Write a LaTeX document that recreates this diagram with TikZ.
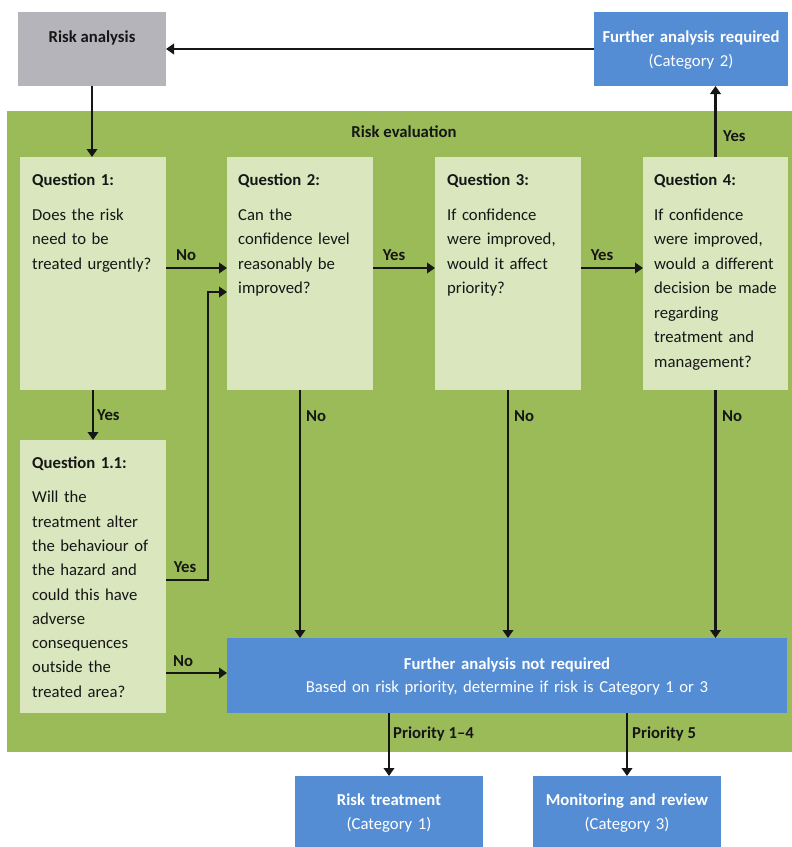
\documentclass[tikz,border=0pt]{standalone}
\usepackage{fontspec}
\setmainfont{Carlito}
\usetikzlibrary{arrows.meta}

\definecolor{evalgreen}{RGB}{155,187,89}
\definecolor{qgreen}{RGB}{217,230,190}
\definecolor{boxblue}{RGB}{84,141,212}
\definecolor{boxgray}{RGB}{180,180,186}
\definecolor{ink}{RGB}{22,22,22}

\begin{document}
\begin{tikzpicture}[x=1pt,y=-1pt,
  every node/.style={font=\fontsize{16.7}{24.5}\selectfont},
  panel/.style={rectangle, draw=none, inner sep=0, outer sep=0, anchor=north west},
  qbox/.style={panel, fill=qgreen, minimum width=146pt},
  bluebox/.style={panel, fill=boxblue},
  qtext/.style={anchor=base west, inner sep=0, text width=150pt, align=left, text=ink},
  btext/.style={anchor=base, inner sep=0, text width=420pt, align=center, text=white},
  lbl/.style={inner sep=0, text=ink, font=\fontsize{16.7}{20}\selectfont\bfseries},
  arr/.style={draw=ink, line width=2.4pt, -{Triangle[length=8pt,width=10.5pt]}},
]
\useasboundingbox (0,0) rectangle (792,847);

% evaluation area
\fill[evalgreen] (7,111) rectangle (792,752);
\node[lbl, anchor=base] (evaltitle) at (404,137) {Risk evaluation};

% outer boxes
\node[panel, fill=boxgray, minimum width=148pt, minimum height=74pt] (ra) at (18,12) {};
\node[lbl, anchor=base] (ratext) at (92,42) {Risk analysis};

\node[bluebox, minimum width=194pt, minimum height=74pt] (far) at (594,12) {};
\node[btext, text width=190pt] (fartext) at (691,42) {\bfseries Further analysis required\\\mdseries(Category 2)};

% question boxes
\node[qbox, minimum height=233pt] (q1) at (20,157) {};
\node[qbox, minimum height=233pt] (q2) at (227,157) {};
\node[qbox, minimum height=233pt] (q3) at (435,157) {};
\node[qbox, minimum width=145pt, minimum height=233pt] (q4) at (643,157) {};
\node[qbox, minimum height=273pt] (q11) at (20,440) {};

\node[qtext] (q1text) at (32,185) {\textbf{Question 1:}\\[10.5pt]Does the risk\\need to be\\treated urgently?};
\node[qtext] (q2text) at (238,185) {\textbf{Question 2:}\\[10.5pt]Can the\\confidence level\\reasonably be\\improved?};
\node[qtext] (q3text) at (447,185) {\textbf{Question 3:}\\[10.5pt]If confidence\\were improved,\\would it affect\\priority?};
\node[qtext] (q4text) at (654,185) {\textbf{Question 4:}\\[10.5pt]If confidence\\were improved,\\would a different\\decision be made\\regarding\\treatment and\\management?};
\node[qtext, font=\fontsize{16.7}{24.3}\selectfont] (q11text) at (32,468) {\textbf{Question 1.1:}\\[10.5pt]Will the\\treatment alter\\the behaviour of\\the hazard and\\could this have\\adverse\\consequences\\outside the\\treated area?};

% outcome boxes
\node[bluebox, minimum width=560pt, minimum height=75pt] (fnr) at (227,638) {};
\node[btext, font=\fontsize{16.7}{23.7}\selectfont] (fnrtext) at (507,669) {\bfseries Further analysis not required\\\mdseries Based on risk priority, determine if risk is Category 1 or 3};

\node[bluebox, minimum width=188pt, minimum height=71pt] (rt) at (295,776) {};
\node[btext, text width=184pt] (rttext) at (389,805) {\bfseries Risk treatment\\\mdseries(Category 1)};

\node[bluebox, minimum width=188pt, minimum height=71pt] (mr) at (533,776) {};
\node[btext, text width=184pt] (mrtext) at (627,805) {\bfseries Monitoring and review\\\mdseries(Category 3)};

% routing helpers
\coordinate (row) at (0,268);
\coordinate (yesrow) at (0,580);
\coordinate (bend) at (208,292);
\coordinate (norow) at (0,673);

% connectors
\draw[arr] (ra.south) -- (ra.south |- q1.north);
\draw[arr] (far.west) -- (ra.east);
\draw[arr] (q4.north) -- (q4.north |- far.south);
\draw[arr] (q1.east |- row) -- (q2.west |- row);
\draw[arr] (q2.east |- row) -- (q3.west |- row);
\draw[arr] (q3.east |- row) -- (q4.west |- row);
\draw[arr] (q1.south) -- (q11.north);
\draw[arr] (q11.east |- yesrow) -| (bend) -- (q2.west |- bend);
\draw[arr] (q11.east |- norow) -- (fnr.west |- norow);
\draw[arr] (q2.south) -- (q2.south |- fnr.north);
\draw[arr] (q3.south) -- (q3.south |- fnr.north);
\draw[arr] (q4.south) -- (q4.south |- fnr.north);
\draw[arr] (rt.north |- fnr.south) -- (rt.north);
\draw[arr] (mr.north |- fnr.south) -- (mr.north);

% connector labels
\node[lbl, anchor=base] (no12) at (186,260) {No};
\node[lbl, anchor=base] (yes23) at (394,260) {Yes};
\node[lbl, anchor=base] (yes34) at (602,260) {Yes};
\node[lbl, anchor=base west] (yes4) at (723,141) {Yes};
\node[lbl, anchor=base west] (yes1) at (97,420) {Yes};
\node[lbl, anchor=base west] (no2) at (306,421) {No};
\node[lbl, anchor=base west] (no3) at (514,421) {No};
\node[lbl, anchor=base west] (no4) at (722,421) {No};
\node[lbl, anchor=base] (yes11) at (185,572) {Yes};
\node[lbl, anchor=base] (no11) at (183,666) {No};
\node[lbl, anchor=base west] (p14) at (393,738) {Priority 1--4};
\node[lbl, anchor=base west] (p5) at (632,738) {Priority 5};
\end{tikzpicture}
\end{document}
